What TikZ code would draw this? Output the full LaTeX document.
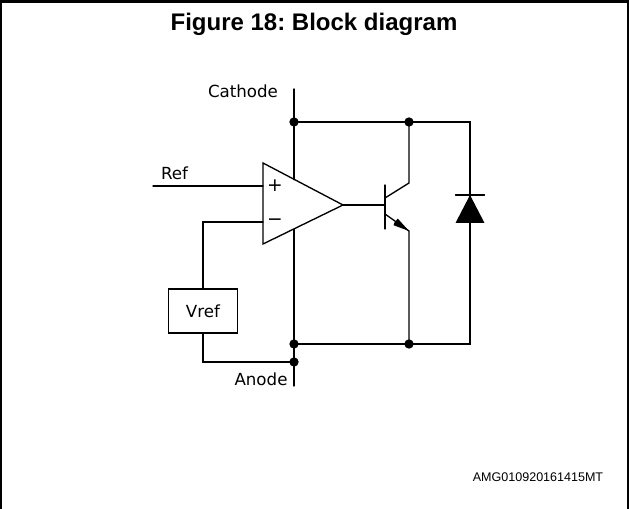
\documentclass[tikz,border=0pt]{standalone}
\usepackage{fontspec}
\setmainfont{Liberation Sans}
\newfontfamily\lblfont{DejaVu Sans}
\usetikzlibrary{arrows.meta}
\frenchspacing
\begin{document}
\begin{tikzpicture}[x=0.75pt,y=-0.75pt,
  wire/.style={line width=1pt,line cap=round},
  jdot/.style={circle,fill=black,inner sep=0pt,minimum size=7pt},
  lbl/.style={font=\lblfont\fontsize{12.5pt}{14pt}\selectfont,inner sep=0pt},
  frameline/.style={line width=1.5pt}]
\useasboundingbox (0,0) rectangle (629,509);
% frame
\draw[line width=2.25pt] (0,1.5) -- (629,1.5);
\draw[frameline] (1,0) -- (1,509);
\draw[frameline] (627.8,0) -- (627.8,509);
\node[anchor=base,font=\bfseries\fontsize{18pt}{20pt}\selectfont,inner sep=0pt] (title) at (314,31) {Figure 18: Block diagram};
% junctions
\node[jdot] (jc) at (294,122) {};
\node[jdot] (jq) at (409,122) {};
\node[jdot] (jb) at (294,344) {};
\node[jdot] (je) at (409,344) {};
\node[jdot] (ja) at (294,362) {};
\coordinate (cattop) at (294,89);
\coordinate (anbot) at (294,386);
\coordinate (dtop) at (470,122);
\coordinate (dbot) at (470,344);
% op-amp
\coordinate (oatl) at (263,163);
\coordinate (oabl) at (263,244);
\coordinate (tip) at (343,205);
\draw[wire,line join=miter] (oatl) -- (tip) -- (oabl) -- cycle;
\coordinate (cu) at (294,179.7);
\coordinate (cl) at (294,229.3);
\draw[wire] (cattop) -- (jc.center) -- (cu);
\draw[wire] (cl) -- (jb.center) -- (ja.center) -- (anbot);
% inputs
\coordinate (refin) at (153,186);
\coordinate (pin) at (263,186);
\coordinate (nin) at (263,222);
\draw[wire] (refin) -- (pin);
\node[draw,line width=1pt,minimum width=51.75pt,minimum height=33pt,inner sep=0pt,font=\lblfont\fontsize{12.5pt}{14pt}\selectfont] (vref) at (203,311) {Vref};
\draw[wire] (nin) -| (vref.north);
\draw[wire] (vref.south) |- (ja.center);
% top / bottom rails and diode branch
\draw[wire] (jc.center) -- (jq.center) -- (dtop) -- (dbot) -- (je.center) -- (jb.center);
\fill (455.5,223) -- (484.5,223) -- (470,195) -- cycle;
\draw[wire] (455.5,195) -- (484.5,195);
% transistor
\coordinate (ctop) at (409,183);
\coordinate (cbar) at (385,198);
\coordinate (bbart) at (385,185);
\coordinate (bbarb) at (385,229);
\coordinate (bjoin) at (385,205);
\coordinate (ebar) at (385,214);
\coordinate (eend) at (409,231);
\draw[wire] (jq.center) -- (ctop) -- (cbar);
\draw[wire] (bbart) -- (bbarb);
\draw[wire] (tip) -- (bjoin);
\draw[wire] (ebar) -- (eend) -- (je.center);
% emitter arrowhead
\fill (eend) -- (393.5,225.2) -- (394.5,222.5) -- (397.8,218.6) -- cycle;
% labels
\node[lbl,anchor=base] (lcath) at (243,98) {Cathode};
\node[lbl,anchor=base] (lref) at (174.5,180) {Ref};
\node[lbl,anchor=base] (lan) at (261,386) {Anode};
\node[lbl,font=\lblfont\fontsize{14pt}{16pt}\selectfont] (lplus) at (275,186) {+};
\node[lbl,font=\lblfont\fontsize{14pt}{16pt}\selectfont] (lminus) at (275,222) {−};
\node[anchor=base,font=\fontsize{9.4pt}{11pt}\selectfont,inner sep=0pt] (code) at (538,481.5) {AMG010920161415MT};
\end{tikzpicture}
\end{document}
